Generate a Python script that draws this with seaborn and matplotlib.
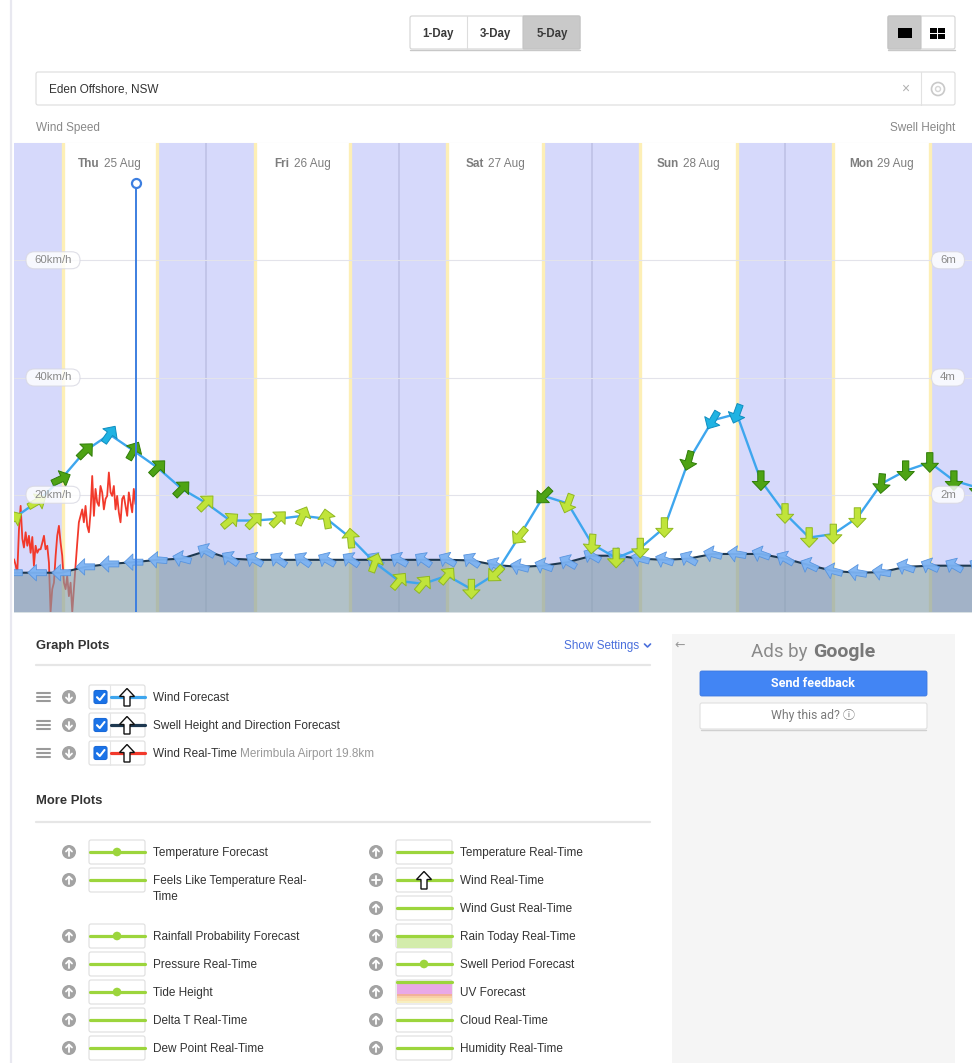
import numpy as np
import pandas as pd
import matplotlib
matplotlib.use("Agg")
import matplotlib.pyplot as plt
import seaborn as sns
from matplotlib.path import Path
from matplotlib.markers import MarkerStyle
from matplotlib.transforms import Affine2D, blended_transform_factory
from matplotlib.patches import FancyBboxPatch, Rectangle, Circle, Polygon
from matplotlib.offsetbox import TextArea, HPacker, AnnotationBbox

# ---------------------------------------------------------------- data
DAY_NAMES = ["Thu", "Fri", "Sat", "Sun", "Mon"]
DAY_DATES = ["25 Aug", "26 Aug", "27 Aug", "28 Aug", "29 Aug"]
DAY_NOON_H = [12, 36, 60, 84, 108]
SUNRISE_H = [6.2, 30.1, 54.0, 78.0, 102.0]
SUNSET_H = [17.85, 41.9, 65.9, 90.0, 114.0]
MIDNIGHT_H = [24, 48, 72, 96]
NOW_H = 15.3
END_H = 120

FORECAST_H = [0, 3, 6, 9, 12, 15, 18, 21, 24, 27, 30, 33, 36, 39, 42, 45, 48,
              51, 54, 57, 60, 63, 66, 69, 72, 75, 78, 81, 84, 87, 90, 93, 96,
              99, 102, 105, 108, 111, 114, 117, 120]
WIND_KMH = [15.9, 18.8, 22.7, 27.5, 30.3, 27.5, 24.6, 21.0, 18.6, 15.6, 15.6,
            15.9, 16.4, 15.9, 12.6, 8.4, 5.3, 4.8, 6.2, 3.9, 6.5, 13.0, 19.8,
            18.5, 11.6, 9.2, 10.9, 14.4, 25.8, 32.7, 33.8, 22.4, 16.8, 12.7,
            13.3, 16.1, 21.9, 24.1, 25.5, 22.4, 21.2]
# direction the wind arrow points (compass degrees)
WIND_DIR = [60, 60, 65, 45, 35, 30, 45, 45, 45, 50, 45, 45, 25, 350, 355, 20,
            40, 40, 40, 180, 225, 220, 225, 200, 185, 180, 180, 180, 195, 210,
            200, 180, 180, 180, 180, 180, 185, 180, 180, 180, 180]
SWELL_M = [0.67, 0.67, 0.67, 0.77, 0.82, 0.85, 0.89, 0.91, 1.04, 0.91, 0.89,
           0.89, 0.89, 0.89, 0.89, 0.89, 0.89, 0.89, 0.89, 0.88, 0.80, 0.77,
           0.79, 0.85, 0.96, 0.96, 0.91, 0.89, 0.91, 0.99, 0.99, 0.99, 0.91,
           0.80, 0.70, 0.67, 0.68, 0.77, 0.79, 0.79, 0.79]
SWELL_DIR = [270, 270, 270, 270, 270, 270, 275, 285, 300, 305, 300, 305, 305,
             300, 305, 305, 300, 305, 300, 305, 300, 285, 290, 300, 300, 290,
             285, 290, 300, 285, 280, 290, 300, 295, 285, 280, 280, 290, 295,
             300, 300]

OBS_H = [0.12, 0.33, 0.53, 0.74, 0.95, 1.16, 1.36, 1.57, 1.78, 1.98,
         2.19, 2.40, 2.60, 2.81, 3.02, 3.23, 3.43, 3.64, 3.85, 4.05,
         4.26, 4.47, 4.67, 4.88, 5.09, 5.30, 5.50, 5.71, 5.92, 6.12,
         6.33, 6.54, 6.74, 6.95, 7.16, 7.37, 7.57, 7.78, 7.99, 8.19,
         8.40, 8.61, 8.81, 9.02, 9.23, 9.44, 9.64, 9.85, 10.06, 10.26,
         10.47, 10.68, 10.88, 11.09, 11.30, 11.51, 11.71, 11.92, 12.13, 12.33,
         12.54, 12.75, 12.95, 13.16, 13.37, 13.58, 13.78, 13.99, 14.20, 14.40,
         14.61, 14.82, 15.02, 15.23]
OBS_KMH = [9.0, 8.0, 6.5, 14.0, 18.1, 12.5, 11.0, 13.6, 11.3, 13.0,
           10.1, 12.8, 7.9, 11.3, 10.1, 10.7, 10.7, 11.8, 13.0, 10.7,
           11.3, 8.4, 0.0, 3.9, 5.0, 9.6, 13.0, 14.7, 11.8, 9.6,
           5.0, 3.9, 6.2, 2.7, 5.0, 0.0, 3.9, 7.9, 11.8, 15.3,
           16.4, 17.5, 15.3, 18.1, 14.7, 13.6, 17.0, 23.2, 16.4, 21.0,
           18.7, 18.1, 21.5, 20.4, 17.5, 19.3, 19.8, 23.8, 20.4, 19.8,
           21.5, 17.5, 19.8, 17.0, 15.3, 19.3, 19.8, 18.1, 16.4, 20.4,
           18.7, 17.0, 21.0, 18.4]

WIND_TICKS = [20, 40, 60]
SWELL_TICKS = [2, 4, 6]
KMH_PER_M = 10          # 2 m of swell shares the 20 km/h grid line
Y_MAX_KMH = 80

GRAPH_PLOTS = ["Wind Forecast", "Swell Height and Direction Forecast", "Wind Real-Time"]
GRAPH_PLOT_COLORS = ["#3ea6ee", "#1d3850", "#f2392b"]
STATION_NOTE = "Merimbula Airport 19.8km"
LEFT_PLOTS = [("Temperature Forecast", "dot"),
              ("Feels Like Temperature Real-|Time", "line"),
              ("Rainfall Probability Forecast", "dot"),
              ("Pressure Real-Time", "line"),
              ("Tide Height", "dot"),
              ("Delta T Real-Time", "line"),
              ("Dew Point Real-Time", "line")]
RIGHT_PLOTS = [("Temperature Real-Time", "line"),
               ("Wind Real-Time", "arrow"),
               ("Wind Gust Real-Time", "line"),
               ("Rain Today Real-Time", "area"),
               ("Swell Period Forecast", "dot"),
               ("UV Forecast", "uv"),
               ("Cloud Real-Time", "line"),
               ("Humidity Real-Time", "line")]

# ---------------------------------------------------------------- styling
sns.set_theme(style="white")
plt.rcParams["font.family"] = ["Liberation Sans", "DejaVu Sans"]
FS = 8.5

W, H = 972, 1063
fig = plt.figure(figsize=(W / 100, H / 100), dpi=100)
fig.patch.set_facecolor("white")


def pixel_axes(z):
    a = fig.add_axes([0, 0, 1, 1], zorder=z)
    a.set_xlim(0, W)
    a.set_ylim(H, 0)
    a.axis("off")
    a.patch.set_alpha(0)
    return a


base = pixel_axes(0)
ax = fig.add_axes([14 / W, 1 - 612 / H, (W - 14) / W, (612 - 143) / H], zorder=1)
top = pixel_axes(2)


def box(a, x0, y0, x1, y1, fc="white", ec="#d9d9d9", lw=0.8, r=2, z=1, **kw):
    p = FancyBboxPatch((x0, y0), x1 - x0, y1 - y0,
                       boxstyle=f"round,pad=0,rounding_size={r}",
                       fc=fc, ec=ec, lw=lw, zorder=z, **kw)
    a.add_patch(p)
    return p


def label(a, x, y, s, **kw):
    # web text baseline sits slightly lower than matplotlib's centred box
    return a.text(x, y + 1, s, va="center", **kw)


def rich(a, x, y, parts, align=(0, 0.5), sep=2.5, z=5):
    kids = [TextArea(s, textprops=p) for s, p in parts]
    pk = HPacker(children=kids, align="baseline", pad=0, sep=sep)
    ab = AnnotationBbox(pk, (x, y + 1), xycoords="data", box_alignment=align,
                        frameon=False, pad=0, zorder=z)
    a.add_artist(ab)


# ---------------------------------------------------------------- chart
ax.set_facecolor("white")
ax.set_xlim(0.124, 119.25)
ax.set_ylim(0, Y_MAX_KMH)

night_spans = [(0, SUNRISE_H[0])] + [(SUNSET_H[i], SUNRISE_H[i + 1]) for i in range(4)] \
    + [(SUNSET_H[4], END_H)]
for a0, a1 in night_spans:
    ax.axvspan(a0, a1, color="#d6d9fb", lw=0, zorder=0)
for h in SUNRISE_H + SUNSET_H:
    ax.axvline(h, color="#fdefb6", lw=2.4, zorder=0.5)
for h in MIDNIGHT_H:
    ax.axvline(h, color="#c0c3e8", lw=1.3, zorder=0.6)
for v in WIND_TICKS:
    ax.axhline(v, color="#e3e3ea", lw=0.8, zorder=0.7)

# real-time wind observations sit beneath the swell shading
sns.lineplot(x=OBS_H, y=OBS_KMH, color="#f2392b", lw=1.3, estimator=None,
             sort=False, ax=ax, zorder=1.5)


def arrow_marker(deg):
    verts = [(0, 0.5), (0.44, 0.04), (0.16, 0.04), (0.16, -0.5),
             (-0.16, -0.5), (-0.16, 0.04), (-0.44, 0.04), (0, 0.5)]
    return MarkerStyle(Path(verts, closed=True),
                       transform=Affine2D().rotate_deg(-deg))


swell = pd.DataFrame({"hour": FORECAST_H, "m": SWELL_M, "dir": SWELL_DIR})
swell["level"] = swell["m"] * KMH_PER_M
swell["dir_key"] = swell["dir"].map(lambda d: f"{d:03d}")
swell_markers = {k: arrow_marker(int(k)) for k in swell["dir_key"].unique()}

ax.fill_between(swell["hour"], swell["level"], 0, color="#829ba7", alpha=0.62,
                lw=0, zorder=2)
sns.lineplot(data=swell, x="hour", y="level", color="#1d3850", lw=1.5,
             estimator=None, sort=False, ax=ax, zorder=2.5)
sns.scatterplot(data=swell, x="hour", y="level", style="dir_key",
                markers=swell_markers, color="#7db3f3", edgecolor="#5592de",
                linewidth=0.6, s=180, alpha=0.95, legend=False, ax=ax, zorder=3)

wind = pd.DataFrame({"hour": FORECAST_H, "kmh": WIND_KMH, "dir": WIND_DIR})
wind["dir_key"] = wind["dir"].map(lambda d: f"{d:03d}")
wind["band"] = np.select([wind["kmh"] >= 30, wind["kmh"] >= 19],
                         ["strong", "fresh"], "light")
wind_markers = {k: arrow_marker(int(k)) for k in wind["dir_key"].unique()}
band_colors = {"light": ("#c0e43a", "#90b820"),
               "fresh": ("#4ea314", "#2f7d08"),
               "strong": ("#1fb3e3", "#0f8dbf")}

sns.lineplot(data=wind, x="hour", y="kmh", color="#3ea6ee", lw=1.7,
             estimator=None, sort=False, ax=ax, zorder=4)
for band, (fc, ec) in band_colors.items():
    sub = wind[wind["band"] == band]
    sns.scatterplot(data=sub, x="hour", y="kmh", style="dir_key",
                    markers=wind_markers, color=fc, edgecolor=ec,
                    linewidth=0.7, s=200, legend=False, ax=ax, zorder=5)

# current time marker
blend = blended_transform_factory(ax.transData, ax.transAxes)
ax.axvline(NOW_H, ymin=0, ymax=0.915, color="#3d7fe0", lw=1.4, zorder=6)
ax.plot([NOW_H], [0.915], transform=blend, marker="o", ms=6.5, mfc="white",
        mec="#3d7fe0", mew=1.6, zorder=7, clip_on=False)

ax.set_xlabel("")
ax.set_ylabel("")
ax.set_xticks([])
ax.set_yticks([])
for s in ax.spines.values():
    s.set_visible(False)

# pills and day labels, placed through the chart's data transform
def to_px(h, v):
    dx, dy = ax.transData.transform((h, v))
    return dx, H - dy


def pill(cx, cy, text, w):
    box(top, cx - w / 2, cy - 8.5, cx + w / 2, cy + 8.5, fc="white",
        ec="#d8d8e2", lw=0.8, r=8.5, z=3, alpha=0.82)
    top.text(cx, cy, text, ha="center", va="center", fontsize=8.2,
             color="#8a8a8a", zorder=4)


for v in WIND_TICKS:
    pill(53, to_px(0, v)[1], f"{v}km/h", 54)
for m in SWELL_TICKS:
    pill(948, to_px(0, m * KMH_PER_M)[1], f"{m}m", 33)

grey = "#7d7d7d"
for name, date, noon in zip(DAY_NAMES, DAY_DATES, DAY_NOON_H):
    x = to_px(noon, 0)[0]
    rich(top, x, 163, [(name, dict(color=grey, fontsize=FS, fontweight="bold")),
                       (date, dict(color=grey, fontsize=FS))],
         align=(0.5, 0.5), sep=3)

# ---------------------------------------------------------------- page chrome
base.plot([11, 11], [0, H], color="#e8e8f0", lw=1.6, zorder=0)
base.plot([14, W], [143, 143], color="#e6e6e6", lw=0.8, zorder=0)

# range buttons
box(base, 410, 16, 580, 49, ec="#d3d3d3", r=2)
box(base, 523, 16, 580, 49, fc="#c9c9c9", ec="#c3c3c3", r=1, z=1.5)
base.plot([467, 467], [16, 49], color="#dddddd", lw=0.8, zorder=2)
base.plot([410, 580], [49.5, 49.5], color="#c8c8c8", lw=1.0, zorder=0.9)
for lbl, cx in zip(["1-Day", "3-Day", "5-Day"], [438, 495, 552]):
    label(base, cx, 32.5, lbl, ha="center", fontsize=8.3,
          fontweight="bold", color="#3a3a3a", zorder=3)

# layout toggle
box(base, 888, 16, 955, 49, ec="#d3d3d3", r=2)
box(base, 888, 16, 921, 49, fc="#c9c9c9", ec="#c3c3c3", r=1, z=1.5)
base.plot([888, 955], [49.5, 49.5], color="#c8c8c8", lw=1.0, zorder=0.9)
base.add_patch(Rectangle((898, 28), 14, 10, fc="black", ec="none", zorder=3))
for qx in (930, 938):
    for qy in (28, 34):
        base.add_patch(Rectangle((qx, qy), 6.5, 4.5, fc="black", ec="none", zorder=3))

# location search box
box(base, 36, 72, 955, 105, ec="#dcdcdc", r=2)
label(base, 49, 89, "Eden Offshore, NSW", ha="left", fontsize=FS, color="#333333")
base.text(905, 89, "\u00d7", ha="center", va="center", fontsize=10, color="#b0b0b0")
base.plot([921, 921], [72, 105], color="#e2e2e2", lw=0.8)
base.add_patch(Circle((938, 89), 6.5, fc="none", ec="#c9c9c9", lw=1.2, zorder=2))
base.add_patch(Circle((938, 89), 2.5, fc="none", ec="#d5d5d5", lw=1.0, zorder=2))

label(base, 36, 127, "Wind Speed", ha="left", fontsize=FS, color="#888888")
label(base, 955, 127, "Swell Height", ha="right", fontsize=FS, color="#888888")

# ---------------------------------------------------------------- plot lists
dark = "#333333"
label(base, 36, 645, "Graph Plots", ha="left", fontsize=9.4,
      fontweight="bold", color=dark)
label(base, 639, 645, "Show Settings", ha="right", fontsize=FS, color="#4a6fdc")
base.plot([644.5, 647.5, 650.5], [644, 647, 644], color="#4a6fdc", lw=1.2)
base.plot([36, 650], [665, 665], color="#e6e6e6", lw=1.6)


def outline_arrow(a, cx, cy, z=6):
    pts = [(cx, cy - 8.5), (cx + 7.5, cy - 0.5), (cx + 3, cy - 0.5), (cx + 3, cy + 9),
           (cx - 3, cy + 9), (cx - 3, cy - 0.5), (cx - 7.5, cy - 0.5)]
    a.add_patch(Polygon(pts, closed=True, fc="white", ec="#111111", lw=1.0,
                        joinstyle="miter", zorder=z))


def round_icon(a, cx, cy, kind):
    a.add_patch(Circle((cx, cy), 7, fc="#a3a3a3", ec="none", zorder=3))
    kw = dict(color="white", lw=1.3, zorder=4, solid_capstyle="round")
    if kind == "down":
        a.plot([cx, cx], [cy - 3.5, cy + 3.5], **kw)
        a.plot([cx - 3, cx, cx + 3], [cy + 0.5, cy + 3.5, cy + 0.5], **kw)
    elif kind == "up":
        a.plot([cx, cx], [cy + 3.5, cy - 3.5], **kw)
        a.plot([cx - 3, cx, cx + 3], [cy - 0.5, cy - 3.5, cy - 0.5], **kw)
    else:
        a.plot([cx, cx], [cy - 4, cy + 4], **kw)
        a.plot([cx - 4, cx + 4], [cy, cy], **kw)


for i, (name, col) in enumerate(zip(GRAPH_PLOTS, GRAPH_PLOT_COLORS)):
    y = 697 + 28 * i
    for dy in (-4, 0, 4):
        base.plot([37, 50], [y + dy, y + dy], color="#9a9a9a", lw=1.5)
    round_icon(base, 69, y, "down")
    box(base, 89, y - 12, 145, y + 12, ec="#dedede", r=2)
    box(base, 94, y - 6.5, 107, y + 6.5, fc="#1a73e8", ec="#1a6ad8", r=2, z=3)
    base.plot([97, 99.8, 104.5], [y + 0.2, y + 3, y - 3], color="white", lw=1.5,
              zorder=4, solid_capstyle="round", solid_joinstyle="round")
    base.plot([110, 110], [y - 12, y + 12], color="#e6e6e6", lw=0.8, zorder=2)
    base.plot([110.5, 145], [y, y], color=col, lw=2.3, zorder=3)
    outline_arrow(base, 127, y)
    if name == "Wind Real-Time":
        rich(base, 153, y, [(name, dict(fontsize=FS, color=dark)),
                            (STATION_NOTE, dict(fontsize=FS, color="#999999"))],
             sep=2.5)
    else:
        label(base, 153, y, name, ha="left", fontsize=FS, color=dark)

label(base, 36, 800, "More Plots", ha="left", fontsize=9.4,
      fontweight="bold", color=dark)
base.plot([36, 650], [822, 822], color="#e6e6e6", lw=1.6)

GREEN = "#9cd53c"


def plot_swatch(a, x0, y, kind):
    box(a, x0, y - 12, x0 + 56, y + 12, ec="#dedede", r=2)
    if kind == "uv":
        a.add_patch(Rectangle((x0 + 0.5, y - 9), 55, 11, fc="#e9a9e7", ec="none", zorder=2))
        for k, c in enumerate(["#f2b19a", "#f8cfa6", "#fbe2b0", "#f7efc0"]):
            a.add_patch(Rectangle((x0 + 0.5, y + 2 + 2.2 * k), 55, 2.2, fc=c,
                                  ec="none", zorder=2))
        a.plot([x0 + 0.5, x0 + 55.5], [y - 10, y - 10], color=GREEN, lw=2.3, zorder=3)
        return
    if kind == "area":
        a.add_patch(Rectangle((x0 + 0.5, y), 55, 11.5, fc="#d3ecab", ec="none", zorder=2))
    a.plot([x0 + 0.5, x0 + 55.5], [y, y], color=GREEN, lw=2.3, zorder=3)
    if kind == "dot":
        a.add_patch(Circle((x0 + 28, y), 4.3, fc=GREEN, ec="none", zorder=4))
    if kind == "arrow":
        outline_arrow(a, x0 + 28, y)


left_rows_y = [852, 880, 936, 964, 992, 1020, 1048]
right_rows_y = [852, 880, 908, 936, 964, 992, 1020, 1048]
for (name, kind), y in zip(LEFT_PLOTS, left_rows_y):
    round_icon(base, 69, y, "up")
    plot_swatch(base, 89, y, kind)
    for j, line in enumerate(name.split("|")):
        label(base, 153, y + 16 * j, line, ha="left", fontsize=FS, color=dark)
for (name, kind), y in zip(RIGHT_PLOTS, right_rows_y):
    round_icon(base, 376, y, "plus" if kind == "arrow" else "up")
    plot_swatch(base, 396, y, kind)
    label(base, 460, y, name, ha="left", fontsize=FS, color=dark)

# ---------------------------------------------------------------- ad panel
base.add_patch(Rectangle((672, 634), 955 - 672, H - 634, fc="#f5f5f5", ec="none",
                         zorder=0.5))
base.text(680, 645, "\u2190", ha="center", va="center", fontsize=9,
          color="#9a9a9a", family=["DejaVu Sans"])
rich(base, 813, 651, [("Ads by", dict(fontsize=13.5, color="#8a8a8a", family="Roboto")),
                      ("Google", dict(fontsize=14, color="#787878",
                                      fontweight="bold", family="Roboto"))],
     align=(0.5, 0.5), sep=4)
box(base, 700, 671, 927, 696, fc="#4285f4", ec="#3b78e0", lw=0.6, r=2, z=2)
base.text(813, 683.5, "Send feedback", ha="center", va="center", fontsize=9,
          color="white", fontweight="bold", family=["Roboto", "DejaVu Sans"], zorder=3)
box(base, 700, 703, 927, 729, fc="white", ec="#e0e0e0", lw=0.8, r=2, z=2)
base.plot([701, 926], [729.6, 729.6], color="#d0d0d0", lw=1.0, zorder=1.9)
base.text(813, 716, "Why this ad? \u24d8", ha="center", va="center", fontsize=8.8,
          color="#7a7a7a",
          family=["Roboto", "Noto Sans CJK JP", "Noto Sans", "DejaVu Sans"], zorder=3)

fig.savefig("out.png", dpi=100, facecolor="white")
